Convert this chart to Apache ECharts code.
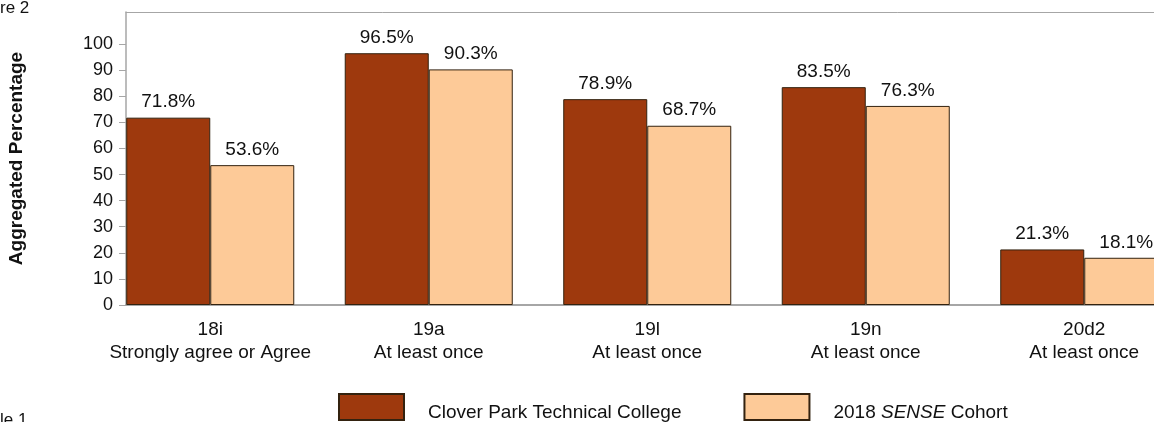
<!DOCTYPE html>
<html>
<head>
<meta charset="utf-8">
<title>Aggregated Percentage</title>
<style>
  *{margin:0;padding:0;}
  body{background:#fff;}
  #chart{width:1154px;height:422px;}
</style>
</head>
<body>
<div id="chart"></div>
<script src="https://cdn.jsdelivr.net/npm/echarts@6/dist/echarts.min.js"></script>
<script>
// data
var categories = ['18i\nStrongly agree or Agree', '19a\nAt least once', '19l\nAt least once', '19n\nAt least once', '20d2\nAt least once'];
var college = [71.8, 96.5, 78.9, 83.5, 21.3];
var cohort = [53.6, 90.3, 68.7, 76.3, 18.1];
var yTicks = [0, 10, 20, 30, 40, 50, 60, 70, 80, 90, 100];
var seriesNames = ['Clover Park Technical College', '2018 SENSE Cohort'];

var font = 'Liberation Sans, Arial, sans-serif';
var yMax = 112.3;
var gray = '#a6a6a6';

var chart = echarts.init(document.getElementById('chart'));

var option = {
  backgroundColor: '#fff',
  textStyle: { fontFamily: font, color: '#111' },
  animation: false,
  grid: [
    // bars + category labels (plot runs past the right edge, like the source crop)
    { left: 101, width: 1092.5, top: 12, bottom: 117, outerBoundsMode: 'none', containLabel: false },
    // frame: left axis, bottom & top lines
    { left: 126, right: 0, top: 12, bottom: 117, outerBoundsMode: 'none', containLabel: false }
  ],
  xAxis: [
    {
      type: 'category', gridIndex: 0, data: categories,
      axisLine: { show: false }, axisTick: { show: false },
      axisLabel: { interval: 0, fontSize: 19, lineHeight: 23, margin: 13, color: '#111', fontFamily: font }
    },
    {
      type: 'value', gridIndex: 1, min: 0, max: 1,
      axisLine: { show: true, lineStyle: { color: gray, width: 2 } },
      axisTick: { show: false }, axisLabel: { show: false }, splitLine: { show: false }
    },
    {
      type: 'value', gridIndex: 1, position: 'top', min: 0, max: 1,
      axisLine: { show: true, lineStyle: { color: gray, width: 1 } },
      axisTick: { show: false }, axisLabel: { show: false }, splitLine: { show: false }
    }
  ],
  yAxis: [
    {
      type: 'value', gridIndex: 0, min: 0, max: yMax, show: false
    },
    {
      type: 'value', gridIndex: 1, min: 0, max: yMax, interval: 10,
      name: 'Aggregated Percentage', nameLocation: 'middle', nameGap: 100,
      nameTextStyle: { fontSize: 19, fontWeight: 'bold', color: '#111', fontFamily: font },
      axisLine: { show: true, lineStyle: { color: gray, width: 1.5 } },
      axisTick: { show: true, length: 7, lineStyle: { color: gray }, customValues: yTicks },
      axisLabel: { fontSize: 18, color: '#111', margin: 13, fontFamily: font, customValues: yTicks },
      splitLine: { show: false }
    }
  ],
  legend: {
    left: 338, top: 393, padding: 0,
    itemWidth: 65, itemHeight: 26, itemGap: 62,
    icon: 'rect',
    data: seriesNames,
    formatter: function (name) {
      return name === seriesNames[1] ? '2018 {i|SENSE} Cohort' : name;
    },
    textStyle: {
      fontSize: 19, color: '#111', fontFamily: font, padding: [12, 0, 0, 19],
      rich: { i: { fontStyle: 'italic', fontSize: 19, fontFamily: font } }
    }
  },
  series: [
    {
      name: seriesNames[0], type: 'bar', xAxisIndex: 0, yAxisIndex: 0,
      data: college, barGap: 0, barCategoryGap: '23.1%',
      itemStyle: { color: '#9e390d', borderColor: '#33220f', borderWidth: 1 },
      label: { show: true, position: 'top', distance: 6, fontSize: 19, color: '#111', fontFamily: font,
        formatter: function (p) { return p.value.toFixed(1) + '%'; } }
    },
    {
      name: seriesNames[1], type: 'bar', xAxisIndex: 0, yAxisIndex: 0,
      data: cohort, barGap: 0, barCategoryGap: '23.1%',
      itemStyle: { color: '#fdca98', borderColor: '#33220f', borderWidth: 1 },
      label: { show: true, position: 'top', distance: 6, fontSize: 19, color: '#111', fontFamily: font,
        formatter: function (p) { return p.value.toFixed(1) + '%'; } }
    }
  ],
  graphic: [
    { type: 'text', left: 0, top: 0, style: { text: 're 2', fontSize: 17, fill: '#111', fontFamily: font } },
    { type: 'text', left: 0, top: 412, style: { text: 'le 1', fontSize: 17, fill: '#111', fontFamily: font } }
  ]
};

chart.setOption(option);
</script>
</body>
</html>
